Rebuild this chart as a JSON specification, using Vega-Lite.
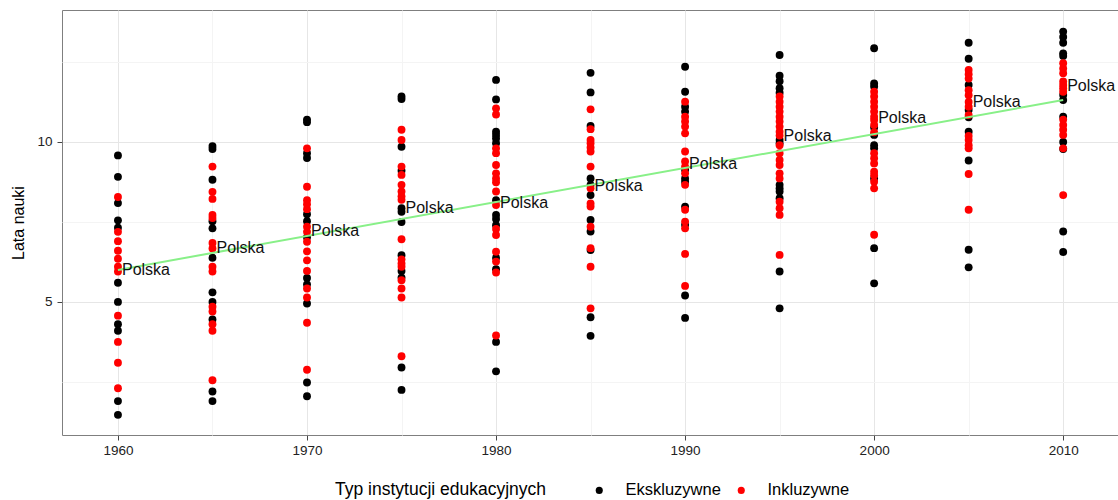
{
  "$schema": "https://vega.github.io/schema/vega-lite/v6.json",
  "width": 1056,
  "height": 425,
  "autosize": {"type": "none"},
  "padding": {"left": 62, "top": 10, "right": 0, "bottom": 65},
  "background": "white",
  "config": {
    "font": "Liberation Sans",
    "view": {"stroke": "#7F7F7F", "strokeWidth": 1}
  },
  "datasets": {
    "punkty": [
      {"rok": 1960, "lata": 9.58, "typ": "Ekskluzywne"}, {"rok": 1960, "lata": 8.91, "typ": "Ekskluzywne"}, {"rok": 1960, "lata": 8.09, "typ": "Ekskluzywne"}, {"rok": 1960, "lata": 7.55, "typ": "Ekskluzywne"}, {"rok": 1960, "lata": 7.32, "typ": "Ekskluzywne"}, {"rok": 1960, "lata": 5.6, "typ": "Ekskluzywne"}, {"rok": 1960, "lata": 5.0, "typ": "Ekskluzywne"}, {"rok": 1960, "lata": 4.3, "typ": "Ekskluzywne"}, {"rok": 1960, "lata": 4.1, "typ": "Ekskluzywne"}, {"rok": 1960, "lata": 1.9, "typ": "Ekskluzywne"}, {"rok": 1960, "lata": 1.47, "typ": "Ekskluzywne"},
      {"rok": 1960, "lata": 8.28, "typ": "Inkluzywne"}, {"rok": 1960, "lata": 7.19, "typ": "Inkluzywne"}, {"rok": 1960, "lata": 6.9, "typ": "Inkluzywne"}, {"rok": 1960, "lata": 6.6, "typ": "Inkluzywne"}, {"rok": 1960, "lata": 6.35, "typ": "Inkluzywne"}, {"rok": 1960, "lata": 6.1, "typ": "Inkluzywne"}, {"rok": 1960, "lata": 5.95, "typ": "Inkluzywne"}, {"rok": 1960, "lata": 4.57, "typ": "Inkluzywne"}, {"rok": 1960, "lata": 3.75, "typ": "Inkluzywne"}, {"rok": 1960, "lata": 3.1, "typ": "Inkluzywne"}, {"rok": 1960, "lata": 2.3, "typ": "Inkluzywne"},
      {"rok": 1965, "lata": 9.87, "typ": "Ekskluzywne"}, {"rok": 1965, "lata": 9.78, "typ": "Ekskluzywne"}, {"rok": 1965, "lata": 8.82, "typ": "Ekskluzywne"}, {"rok": 1965, "lata": 7.52, "typ": "Ekskluzywne"}, {"rok": 1965, "lata": 7.3, "typ": "Ekskluzywne"}, {"rok": 1965, "lata": 6.38, "typ": "Ekskluzywne"}, {"rok": 1965, "lata": 5.3, "typ": "Ekskluzywne"}, {"rok": 1965, "lata": 5.0, "typ": "Ekskluzywne"}, {"rok": 1965, "lata": 4.45, "typ": "Ekskluzywne"}, {"rok": 1965, "lata": 2.2, "typ": "Ekskluzywne"}, {"rok": 1965, "lata": 1.9, "typ": "Ekskluzywne"},
      {"rok": 1965, "lata": 9.23, "typ": "Inkluzywne"}, {"rok": 1965, "lata": 8.44, "typ": "Inkluzywne"}, {"rok": 1965, "lata": 8.22, "typ": "Inkluzywne"}, {"rok": 1965, "lata": 7.72, "typ": "Inkluzywne"}, {"rok": 1965, "lata": 7.62, "typ": "Inkluzywne"}, {"rok": 1965, "lata": 6.84, "typ": "Inkluzywne"}, {"rok": 1965, "lata": 6.67, "typ": "Inkluzywne"}, {"rok": 1965, "lata": 6.1, "typ": "Inkluzywne"}, {"rok": 1965, "lata": 5.95, "typ": "Inkluzywne"}, {"rok": 1965, "lata": 4.85, "typ": "Inkluzywne"}, {"rok": 1965, "lata": 4.7, "typ": "Inkluzywne"}, {"rok": 1965, "lata": 4.3, "typ": "Inkluzywne"}, {"rok": 1965, "lata": 4.1, "typ": "Inkluzywne"}, {"rok": 1965, "lata": 2.55, "typ": "Inkluzywne"},
      {"rok": 1970, "lata": 10.7, "typ": "Ekskluzywne"}, {"rok": 1970, "lata": 10.62, "typ": "Ekskluzywne"}, {"rok": 1970, "lata": 9.65, "typ": "Ekskluzywne"}, {"rok": 1970, "lata": 9.5, "typ": "Ekskluzywne"}, {"rok": 1970, "lata": 7.74, "typ": "Ekskluzywne"}, {"rok": 1970, "lata": 7.52, "typ": "Ekskluzywne"}, {"rok": 1970, "lata": 7.02, "typ": "Ekskluzywne"}, {"rok": 1970, "lata": 5.75, "typ": "Ekskluzywne"}, {"rok": 1970, "lata": 5.55, "typ": "Ekskluzywne"}, {"rok": 1970, "lata": 4.95, "typ": "Ekskluzywne"}, {"rok": 1970, "lata": 2.48, "typ": "Ekskluzywne"}, {"rok": 1970, "lata": 2.05, "typ": "Ekskluzywne"},
      {"rok": 1970, "lata": 9.8, "typ": "Inkluzywne"}, {"rok": 1970, "lata": 8.6, "typ": "Inkluzywne"}, {"rok": 1970, "lata": 8.18, "typ": "Inkluzywne"}, {"rok": 1970, "lata": 8.05, "typ": "Inkluzywne"}, {"rok": 1970, "lata": 7.9, "typ": "Inkluzywne"}, {"rok": 1970, "lata": 7.35, "typ": "Inkluzywne"}, {"rok": 1970, "lata": 7.19, "typ": "Inkluzywne"}, {"rok": 1970, "lata": 6.88, "typ": "Inkluzywne"}, {"rok": 1970, "lata": 6.58, "typ": "Inkluzywne"}, {"rok": 1970, "lata": 6.3, "typ": "Inkluzywne"}, {"rok": 1970, "lata": 5.97, "typ": "Inkluzywne"}, {"rok": 1970, "lata": 5.42, "typ": "Inkluzywne"}, {"rok": 1970, "lata": 5.14, "typ": "Inkluzywne"}, {"rok": 1970, "lata": 4.35, "typ": "Inkluzywne"}, {"rok": 1970, "lata": 2.88, "typ": "Inkluzywne"},
      {"rok": 1975, "lata": 11.42, "typ": "Ekskluzywne"}, {"rok": 1975, "lata": 11.34, "typ": "Ekskluzywne"}, {"rok": 1975, "lata": 9.85, "typ": "Ekskluzywne"}, {"rok": 1975, "lata": 9.1, "typ": "Ekskluzywne"}, {"rok": 1975, "lata": 7.93, "typ": "Ekskluzywne"}, {"rok": 1975, "lata": 7.82, "typ": "Ekskluzywne"}, {"rok": 1975, "lata": 7.5, "typ": "Ekskluzywne"}, {"rok": 1975, "lata": 6.46, "typ": "Ekskluzywne"}, {"rok": 1975, "lata": 5.97, "typ": "Ekskluzywne"}, {"rok": 1975, "lata": 5.76, "typ": "Ekskluzywne"}, {"rok": 1975, "lata": 2.95, "typ": "Ekskluzywne"}, {"rok": 1975, "lata": 2.25, "typ": "Ekskluzywne"},
      {"rok": 1975, "lata": 10.38, "typ": "Inkluzywne"}, {"rok": 1975, "lata": 10.06, "typ": "Inkluzywne"}, {"rok": 1975, "lata": 9.23, "typ": "Inkluzywne"}, {"rok": 1975, "lata": 8.97, "typ": "Inkluzywne"}, {"rok": 1975, "lata": 8.66, "typ": "Inkluzywne"}, {"rok": 1975, "lata": 8.45, "typ": "Inkluzywne"}, {"rok": 1975, "lata": 8.3, "typ": "Inkluzywne"}, {"rok": 1975, "lata": 8.19, "typ": "Inkluzywne"}, {"rok": 1975, "lata": 6.96, "typ": "Inkluzywne"}, {"rok": 1975, "lata": 6.33, "typ": "Inkluzywne"}, {"rok": 1975, "lata": 6.2, "typ": "Inkluzywne"}, {"rok": 1975, "lata": 6.1, "typ": "Inkluzywne"}, {"rok": 1975, "lata": 5.68, "typ": "Inkluzywne"}, {"rok": 1975, "lata": 5.42, "typ": "Inkluzywne"}, {"rok": 1975, "lata": 5.14, "typ": "Inkluzywne"}, {"rok": 1975, "lata": 3.3, "typ": "Inkluzywne"},
      {"rok": 1980, "lata": 11.94, "typ": "Ekskluzywne"}, {"rok": 1980, "lata": 11.33, "typ": "Ekskluzywne"}, {"rok": 1980, "lata": 10.32, "typ": "Ekskluzywne"}, {"rok": 1980, "lata": 10.22, "typ": "Ekskluzywne"}, {"rok": 1980, "lata": 10.11, "typ": "Ekskluzywne"}, {"rok": 1980, "lata": 9.96, "typ": "Ekskluzywne"}, {"rok": 1980, "lata": 8.18, "typ": "Ekskluzywne"}, {"rok": 1980, "lata": 7.72, "typ": "Ekskluzywne"}, {"rok": 1980, "lata": 7.59, "typ": "Ekskluzywne"}, {"rok": 1980, "lata": 7.4, "typ": "Ekskluzywne"}, {"rok": 1980, "lata": 6.38, "typ": "Ekskluzywne"}, {"rok": 1980, "lata": 6.02, "typ": "Ekskluzywne"}, {"rok": 1980, "lata": 3.75, "typ": "Ekskluzywne"}, {"rok": 1980, "lata": 2.83, "typ": "Ekskluzywne"},
      {"rok": 1980, "lata": 11.05, "typ": "Inkluzywne"}, {"rok": 1980, "lata": 10.86, "typ": "Inkluzywne"}, {"rok": 1980, "lata": 9.8, "typ": "Inkluzywne"}, {"rok": 1980, "lata": 9.65, "typ": "Inkluzywne"}, {"rok": 1980, "lata": 9.28, "typ": "Inkluzywne"}, {"rok": 1980, "lata": 9.02, "typ": "Inkluzywne"}, {"rok": 1980, "lata": 8.86, "typ": "Inkluzywne"}, {"rok": 1980, "lata": 8.74, "typ": "Inkluzywne"}, {"rok": 1980, "lata": 8.45, "typ": "Inkluzywne"}, {"rok": 1980, "lata": 8.03, "typ": "Inkluzywne"}, {"rok": 1980, "lata": 7.28, "typ": "Inkluzywne"}, {"rok": 1980, "lata": 7.09, "typ": "Inkluzywne"}, {"rok": 1980, "lata": 6.57, "typ": "Inkluzywne"}, {"rok": 1980, "lata": 6.26, "typ": "Inkluzywne"}, {"rok": 1980, "lata": 5.92, "typ": "Inkluzywne"}, {"rok": 1980, "lata": 3.95, "typ": "Inkluzywne"},
      {"rok": 1985, "lata": 12.16, "typ": "Ekskluzywne"}, {"rok": 1985, "lata": 11.55, "typ": "Ekskluzywne"}, {"rok": 1985, "lata": 10.5, "typ": "Ekskluzywne"}, {"rok": 1985, "lata": 8.86, "typ": "Ekskluzywne"}, {"rok": 1985, "lata": 8.66, "typ": "Ekskluzywne"}, {"rok": 1985, "lata": 8.34, "typ": "Ekskluzywne"}, {"rok": 1985, "lata": 7.56, "typ": "Ekskluzywne"}, {"rok": 1985, "lata": 7.2, "typ": "Ekskluzywne"}, {"rok": 1985, "lata": 6.62, "typ": "Ekskluzywne"}, {"rok": 1985, "lata": 4.52, "typ": "Ekskluzywne"}, {"rok": 1985, "lata": 3.94, "typ": "Ekskluzywne"},
      {"rok": 1985, "lata": 11.02, "typ": "Inkluzywne"}, {"rok": 1985, "lata": 10.4, "typ": "Inkluzywne"}, {"rok": 1985, "lata": 10.06, "typ": "Inkluzywne"}, {"rok": 1985, "lata": 9.96, "typ": "Inkluzywne"}, {"rok": 1985, "lata": 9.83, "typ": "Inkluzywne"}, {"rok": 1985, "lata": 9.7, "typ": "Inkluzywne"}, {"rok": 1985, "lata": 9.23, "typ": "Inkluzywne"}, {"rok": 1985, "lata": 8.55, "typ": "Inkluzywne"}, {"rok": 1985, "lata": 8.08, "typ": "Inkluzywne"}, {"rok": 1985, "lata": 7.98, "typ": "Inkluzywne"}, {"rok": 1985, "lata": 7.35, "typ": "Inkluzywne"}, {"rok": 1985, "lata": 6.68, "typ": "Inkluzywne"}, {"rok": 1985, "lata": 6.1, "typ": "Inkluzywne"}, {"rok": 1985, "lata": 4.8, "typ": "Inkluzywne"},
      {"rok": 1990, "lata": 12.35, "typ": "Ekskluzywne"}, {"rok": 1990, "lata": 11.57, "typ": "Ekskluzywne"}, {"rok": 1990, "lata": 11.1, "typ": "Ekskluzywne"}, {"rok": 1990, "lata": 10.95, "typ": "Ekskluzywne"}, {"rok": 1990, "lata": 9.13, "typ": "Ekskluzywne"}, {"rok": 1990, "lata": 8.86, "typ": "Ekskluzywne"}, {"rok": 1990, "lata": 8.76, "typ": "Ekskluzywne"}, {"rok": 1990, "lata": 7.98, "typ": "Ekskluzywne"}, {"rok": 1990, "lata": 7.41, "typ": "Ekskluzywne"}, {"rok": 1990, "lata": 5.2, "typ": "Ekskluzywne"}, {"rok": 1990, "lata": 4.5, "typ": "Ekskluzywne"},
      {"rok": 1990, "lata": 11.26, "typ": "Inkluzywne"}, {"rok": 1990, "lata": 10.79, "typ": "Inkluzywne"}, {"rok": 1990, "lata": 10.64, "typ": "Inkluzywne"}, {"rok": 1990, "lata": 10.48, "typ": "Inkluzywne"}, {"rok": 1990, "lata": 10.27, "typ": "Inkluzywne"}, {"rok": 1990, "lata": 9.7, "typ": "Inkluzywne"}, {"rok": 1990, "lata": 9.39, "typ": "Inkluzywne"}, {"rok": 1990, "lata": 9.23, "typ": "Inkluzywne"}, {"rok": 1990, "lata": 9.02, "typ": "Inkluzywne"}, {"rok": 1990, "lata": 8.66, "typ": "Inkluzywne"}, {"rok": 1990, "lata": 7.88, "typ": "Inkluzywne"}, {"rok": 1990, "lata": 7.51, "typ": "Inkluzywne"}, {"rok": 1990, "lata": 7.3, "typ": "Inkluzywne"}, {"rok": 1990, "lata": 6.5, "typ": "Inkluzywne"}, {"rok": 1990, "lata": 5.5, "typ": "Inkluzywne"},
      {"rok": 1995, "lata": 12.72, "typ": "Ekskluzywne"}, {"rok": 1995, "lata": 12.07, "typ": "Ekskluzywne"}, {"rok": 1995, "lata": 11.9, "typ": "Ekskluzywne"}, {"rok": 1995, "lata": 11.68, "typ": "Ekskluzywne"}, {"rok": 1995, "lata": 11.54, "typ": "Ekskluzywne"}, {"rok": 1995, "lata": 10.06, "typ": "Ekskluzywne"}, {"rok": 1995, "lata": 9.96, "typ": "Ekskluzywne"}, {"rok": 1995, "lata": 8.66, "typ": "Ekskluzywne"}, {"rok": 1995, "lata": 8.55, "typ": "Ekskluzywne"}, {"rok": 1995, "lata": 8.45, "typ": "Ekskluzywne"}, {"rok": 1995, "lata": 8.24, "typ": "Ekskluzywne"}, {"rok": 1995, "lata": 5.95, "typ": "Ekskluzywne"}, {"rok": 1995, "lata": 4.8, "typ": "Ekskluzywne"},
      {"rok": 1995, "lata": 11.42, "typ": "Inkluzywne"}, {"rok": 1995, "lata": 11.26, "typ": "Inkluzywne"}, {"rok": 1995, "lata": 11.1, "typ": "Inkluzywne"}, {"rok": 1995, "lata": 10.95, "typ": "Inkluzywne"}, {"rok": 1995, "lata": 10.79, "typ": "Inkluzywne"}, {"rok": 1995, "lata": 10.64, "typ": "Inkluzywne"}, {"rok": 1995, "lata": 10.48, "typ": "Inkluzywne"}, {"rok": 1995, "lata": 10.32, "typ": "Inkluzywne"}, {"rok": 1995, "lata": 10.2, "typ": "Inkluzywne"}, {"rok": 1995, "lata": 9.9, "typ": "Inkluzywne"}, {"rok": 1995, "lata": 9.65, "typ": "Inkluzywne"}, {"rok": 1995, "lata": 9.44, "typ": "Inkluzywne"}, {"rok": 1995, "lata": 9.28, "typ": "Inkluzywne"}, {"rok": 1995, "lata": 9.02, "typ": "Inkluzywne"}, {"rok": 1995, "lata": 8.86, "typ": "Inkluzywne"}, {"rok": 1995, "lata": 8.13, "typ": "Inkluzywne"}, {"rok": 1995, "lata": 7.93, "typ": "Inkluzywne"}, {"rok": 1995, "lata": 7.72, "typ": "Inkluzywne"}, {"rok": 1995, "lata": 6.47, "typ": "Inkluzywne"},
      {"rok": 2000, "lata": 12.93, "typ": "Ekskluzywne"}, {"rok": 2000, "lata": 11.83, "typ": "Ekskluzywne"}, {"rok": 2000, "lata": 11.73, "typ": "Ekskluzywne"}, {"rok": 2000, "lata": 10.45, "typ": "Ekskluzywne"}, {"rok": 2000, "lata": 10.22, "typ": "Ekskluzywne"}, {"rok": 2000, "lata": 9.9, "typ": "Ekskluzywne"}, {"rok": 2000, "lata": 9.8, "typ": "Ekskluzywne"}, {"rok": 2000, "lata": 8.86, "typ": "Ekskluzywne"}, {"rok": 2000, "lata": 6.68, "typ": "Ekskluzywne"}, {"rok": 2000, "lata": 5.58, "typ": "Ekskluzywne"},
      {"rok": 2000, "lata": 11.57, "typ": "Inkluzywne"}, {"rok": 2000, "lata": 11.42, "typ": "Inkluzywne"}, {"rok": 2000, "lata": 11.26, "typ": "Inkluzywne"}, {"rok": 2000, "lata": 11.1, "typ": "Inkluzywne"}, {"rok": 2000, "lata": 10.95, "typ": "Inkluzywne"}, {"rok": 2000, "lata": 10.79, "typ": "Inkluzywne"}, {"rok": 2000, "lata": 10.69, "typ": "Inkluzywne"}, {"rok": 2000, "lata": 10.53, "typ": "Inkluzywne"}, {"rok": 2000, "lata": 10.3, "typ": "Inkluzywne"}, {"rok": 2000, "lata": 9.65, "typ": "Inkluzywne"}, {"rok": 2000, "lata": 9.49, "typ": "Inkluzywne"}, {"rok": 2000, "lata": 9.33, "typ": "Inkluzywne"}, {"rok": 2000, "lata": 9.07, "typ": "Inkluzywne"}, {"rok": 2000, "lata": 8.96, "typ": "Inkluzywne"}, {"rok": 2000, "lata": 8.76, "typ": "Inkluzywne"}, {"rok": 2000, "lata": 8.55, "typ": "Inkluzywne"}, {"rok": 2000, "lata": 7.1, "typ": "Inkluzywne"},
      {"rok": 2005, "lata": 13.1, "typ": "Ekskluzywne"}, {"rok": 2005, "lata": 12.6, "typ": "Ekskluzywne"}, {"rok": 2005, "lata": 11.78, "typ": "Ekskluzywne"}, {"rok": 2005, "lata": 11.0, "typ": "Ekskluzywne"}, {"rok": 2005, "lata": 10.77, "typ": "Ekskluzywne"}, {"rok": 2005, "lata": 10.32, "typ": "Ekskluzywne"}, {"rok": 2005, "lata": 9.42, "typ": "Ekskluzywne"}, {"rok": 2005, "lata": 6.63, "typ": "Ekskluzywne"}, {"rok": 2005, "lata": 6.08, "typ": "Ekskluzywne"},
      {"rok": 2005, "lata": 12.25, "typ": "Inkluzywne"}, {"rok": 2005, "lata": 12.12, "typ": "Inkluzywne"}, {"rok": 2005, "lata": 11.98, "typ": "Inkluzywne"}, {"rok": 2005, "lata": 11.62, "typ": "Inkluzywne"}, {"rok": 2005, "lata": 11.46, "typ": "Inkluzywne"}, {"rok": 2005, "lata": 11.25, "typ": "Inkluzywne"}, {"rok": 2005, "lata": 11.1, "typ": "Inkluzywne"}, {"rok": 2005, "lata": 10.84, "typ": "Inkluzywne"}, {"rok": 2005, "lata": 10.19, "typ": "Inkluzywne"}, {"rok": 2005, "lata": 10.06, "typ": "Inkluzywne"}, {"rok": 2005, "lata": 9.9, "typ": "Inkluzywne"}, {"rok": 2005, "lata": 9.8, "typ": "Inkluzywne"}, {"rok": 2005, "lata": 9.0, "typ": "Inkluzywne"}, {"rok": 2005, "lata": 7.88, "typ": "Inkluzywne"},
      {"rok": 2010, "lata": 13.45, "typ": "Ekskluzywne"}, {"rok": 2010, "lata": 13.28, "typ": "Ekskluzywne"}, {"rok": 2010, "lata": 13.1, "typ": "Ekskluzywne"}, {"rok": 2010, "lata": 12.77, "typ": "Ekskluzywne"}, {"rok": 2010, "lata": 12.69, "typ": "Ekskluzywne"}, {"rok": 2010, "lata": 11.47, "typ": "Ekskluzywne"}, {"rok": 2010, "lata": 11.31, "typ": "Ekskluzywne"}, {"rok": 2010, "lata": 10.79, "typ": "Ekskluzywne"}, {"rok": 2010, "lata": 10.0, "typ": "Ekskluzywne"}, {"rok": 2010, "lata": 9.78, "typ": "Ekskluzywne"}, {"rok": 2010, "lata": 7.2, "typ": "Ekskluzywne"}, {"rok": 2010, "lata": 6.56, "typ": "Ekskluzywne"},
      {"rok": 2010, "lata": 12.46, "typ": "Inkluzywne"}, {"rok": 2010, "lata": 12.3, "typ": "Inkluzywne"}, {"rok": 2010, "lata": 12.15, "typ": "Inkluzywne"}, {"rok": 2010, "lata": 11.89, "typ": "Inkluzywne"}, {"rok": 2010, "lata": 11.78, "typ": "Inkluzywne"}, {"rok": 2010, "lata": 11.68, "typ": "Inkluzywne"}, {"rok": 2010, "lata": 11.57, "typ": "Inkluzywne"}, {"rok": 2010, "lata": 10.7, "typ": "Inkluzywne"}, {"rok": 2010, "lata": 10.53, "typ": "Inkluzywne"}, {"rok": 2010, "lata": 10.38, "typ": "Inkluzywne"}, {"rok": 2010, "lata": 10.22, "typ": "Inkluzywne"}, {"rok": 2010, "lata": 9.8, "typ": "Inkluzywne"}, {"rok": 2010, "lata": 8.34, "typ": "Inkluzywne"}
    ],
    "trend": [
      {"rok": 1960, "lata": 6.0},
      {"rok": 2010, "lata": 11.31}
    ],
    "polska": [
      {"rok": 1960, "lata": 6.0, "kraj": "Polska"},
      {"rok": 1965, "lata": 6.7, "kraj": "Polska"},
      {"rok": 1970, "lata": 7.22, "kraj": "Polska"},
      {"rok": 1975, "lata": 7.95, "kraj": "Polska"},
      {"rok": 1980, "lata": 8.1, "kraj": "Polska"},
      {"rok": 1985, "lata": 8.62, "kraj": "Polska"},
      {"rok": 1990, "lata": 9.3, "kraj": "Polska"},
      {"rok": 1995, "lata": 10.2, "kraj": "Polska"},
      {"rok": 2000, "lata": 10.75, "kraj": "Polska"},
      {"rok": 2005, "lata": 11.25, "kraj": "Polska"},
      {"rok": 2010, "lata": 11.75, "kraj": "Polska"}
    ]
  },
  "layer": [
    {
      "data": {"name": "punkty"},
      "mark": {"type": "circle", "size": 62, "opacity": 1},
      "encoding": {
        "x": {
          "field": "rok", "type": "quantitative",
          "scale": {"domain": [1957.04, 2012.9], "nice": false, "zero": false},
          "axis": {
            "title": null,
            "values": [1960, 1965, 1970, 1975, 1980, 1985, 1990, 1995, 2000, 2005, 2010],
            "format": "d",
            "labelExpr": "datum.value % 10 === 0 ? datum.label : ''",
            "domain": false,
            "grid": true,
            "gridColor": {"condition": {"test": "datum.value % 10 === 0", "value": "#E6E6E6"}, "value": "#F4F4F4"},
            "gridWidth": 1,
            "ticks": true,
            "tickColor": "#444444",
            "tickSize": 5,
            "tickOpacity": {"condition": {"test": "datum.value % 10 === 0", "value": 1}, "value": 0},
            "labelFontSize": 13.5,
            "labelColor": "#222222",
            "labelPadding": 3
          }
        },
        "y": {
          "field": "lata", "type": "quantitative",
          "scale": {"domain": [0.84, 14.125], "nice": false, "zero": false},
          "axis": {
            "title": "Lata nauki",
            "values": [2.5, 5, 7.5, 10, 12.5],
            "labelExpr": "datum.value % 5 === 0 ? datum.label : ''",
            "domain": false,
            "grid": true,
            "gridColor": {"condition": {"test": "datum.value % 5 === 0", "value": "#E6E6E6"}, "value": "#F4F4F4"},
            "gridWidth": 1,
            "tickColor": "#444444",
            "tickSize": 5,
            "tickOpacity": {"condition": {"test": "datum.value % 5 === 0", "value": 1}, "value": 0},
            "labelFontSize": 13.5,
            "labelColor": "#222222",
            "labelPadding": 5,
            "titleFontSize": 16,
            "titleFontWeight": "normal",
            "titleColor": "#000000",
            "titleX": -44,
            "titleBaseline": "middle"
          }
        },
        "color": {
          "field": "typ", "type": "nominal",
          "scale": {"domain": ["Ekskluzywne", "Inkluzywne"], "range": ["#000000", "#FF0000"]},
          "legend": {
            "title": "Typ instytucji edukacyjnych",
            "orient": "none",
            "legendX": 273,
            "legendY": 472,
            "direction": "horizontal",
            "titleOrient": "left",
            "titleFontSize": 17.5,
            "titleLimit": 400,
            "titleFontWeight": "normal",
            "titleColor": "#000000",
            "titlePadding": 44,
            "labelFontSize": 16.5,
            "labelLimit": 200,
            "labelColor": "#000000",
            "labelOffset": 18,
            "columnPadding": 12,
            "symbolSize": 50,
            "symbolType": "circle"
          }
        }
      }
    },
    {
      "data": {"name": "trend"},
      "mark": {"type": "line", "color": "#88F088", "strokeWidth": 2},
      "encoding": {
        "x": {"field": "rok", "type": "quantitative"},
        "y": {"field": "lata", "type": "quantitative"}
      }
    },
    {
      "data": {"name": "polska"},
      "mark": {"type": "text", "align": "left", "baseline": "middle", "dx": 4, "fontSize": 16, "color": "#111111"},
      "encoding": {
        "x": {"field": "rok", "type": "quantitative"},
        "y": {"field": "lata", "type": "quantitative"},
        "text": {"field": "kraj"}
      }
    }
  ]
}
